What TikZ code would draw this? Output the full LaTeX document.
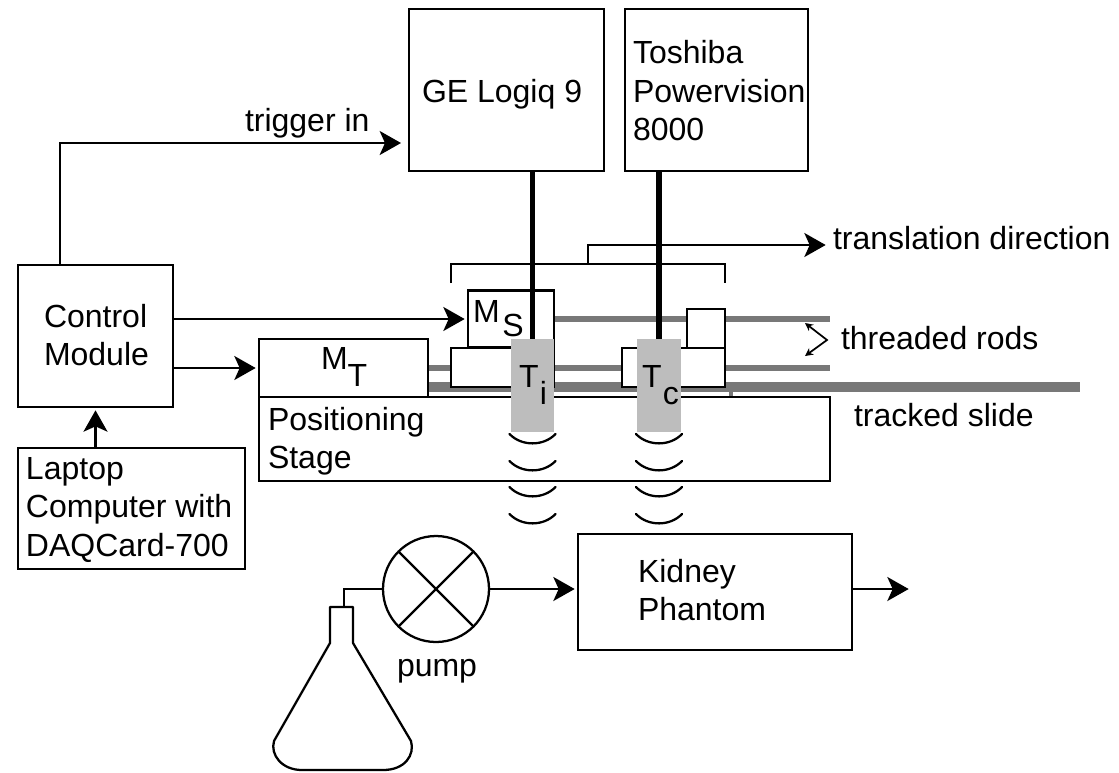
\documentclass[tikz,border=0pt]{standalone}
\usepackage{fontspec}
\setmainfont{Liberation Sans}
\usetikzlibrary{arrows.meta}
\newcommand{\pixlen}{0.75pt}
\definecolor{rodgray}{gray}{0.47}
\definecolor{probegray}{gray}{0.74}
\tikzset{boxnode/.style={rectangle, draw, fill=white, line width=1.7pt, outer sep=0pt, inner sep=0pt},
txt/.style={inner sep=0pt, outer sep=0pt, anchor=base west, align=left, font=\fontsize{24}{28.75}\selectfont},
probe/.style={rectangle, fill=probegray, inner sep=0pt, outer sep=0pt, minimum width=43.5*\pixlen, minimum height=93*\pixlen},
link/.style={line width=1.7pt, shorten >=2.5pt, -{Stealth[length=16pt, width=18pt, inset=4pt]}},
wire/.style={line width=1.7pt},
cable/.style={line width=4.2pt},
rod/.style={rodgray, line width=3.8pt}}

\begin{document}
\begin{tikzpicture}[x=0.75pt,y=-0.75pt]
\useasboundingbox (0,0) rectangle (1119,772);

% rods and slide
\coordinate (rodA) at (554,319); \coordinate (rodAend) at (830,319);
\coordinate (rodB) at (428,368); \coordinate (rodBend) at (830,368);
\coordinate (slide) at (428,387); \coordinate (slideend) at (1080,387);
\draw[rod] (rodA) -- (rodAend);
\draw[rod] (rodB) -- (rodBend);
\draw[rod, line width=7pt] (slide) -- (slideend);
\draw[rod, line width=2.5pt] (731,391) -- (731,398);

% instruments
\node[boxnode, minimum width=195*\pixlen, minimum height=162*\pixlen] (ge) at (506.5,90) {};
\node[boxnode, minimum width=183*\pixlen, minimum height=162*\pixlen] (toshiba) at (716.5,90) {};
\node[boxnode, minimum width=155*\pixlen, minimum height=142*\pixlen] (ctrl) at (95.5,336) {};
\node[boxnode, minimum width=227*\pixlen, minimum height=121*\pixlen] (laptop) at (131.5,508.5) {};
\node[boxnode, minimum width=571*\pixlen, minimum height=84*\pixlen] (stage) at (544.5,439) {};
\node[boxnode, minimum width=169*\pixlen, minimum height=58*\pixlen] (mt) at (343.5,368) {};
\node[boxnode, minimum width=86*\pixlen, minimum height=57*\pixlen] (ms) at (511,319) {};
\node[boxnode, minimum width=103*\pixlen, minimum height=39*\pixlen] (sledA) at (502.5,367.5) {};
\node[boxnode, minimum width=103*\pixlen, minimum height=39*\pixlen] (sledB) at (673.5,367.5) {};
\node[boxnode, minimum width=38*\pixlen, minimum height=39*\pixlen] (block) at (706,328.5) {};
\node[boxnode, minimum width=274*\pixlen, minimum height=116*\pixlen] (kidney) at (715,592) {};

% transducers
\node[probe] (Ti) at (532.5,385.5) {};
\node[probe] (Tc) at (659,385.5) {};
\coordinate (TiTop) at (532.5,339);
\coordinate (TcTop) at (659,339);
\draw[cable] (ge.south -| TiTop) -- (Ti.north);
\draw[cable] (toshiba.south -| TcTop) -- (Tc.north);

\foreach \xpos in {532.5,659}
  \foreach \ypos in {434,461,487,514}
    \draw[wire, line cap=round] (\xpos-23,\ypos) .. controls (\xpos-11,\ypos+12.5) and (\xpos+11,\ypos+12.5) .. (\xpos+23,\ypos);

% connectors
\coordinate (trigstart) at (60,265);
\coordinate (trigbend) at (60,143);
\coordinate (trigend) at (ge.west |- trigbend);
\draw[link] (ctrl.east |- ms.west) -- (ms.west);
\draw[link] (ctrl.east |- mt.west) -- (mt.west);
\draw[link] (laptop.north -| ctrl.south) -- (ctrl.south);
\draw[link, shorten >=6pt] (trigstart) -- (trigbend) -- (trigend);

% translation bracket
\coordinate (brL) at (451,283); \coordinate (brLtop) at (451,264);
\coordinate (brR) at (725,283); \coordinate (brRtop) at (725,264);
\coordinate (brM) at (588,264); \coordinate (brMtop) at (588,245);
\coordinate (brEnd) at (829,245);
\draw[wire] (brL) -- (brLtop) -- (brRtop) -- (brR);
\draw[link] (brM) -- (brMtop) -- (brEnd);

% threaded rods marker
\coordinate (thA) at (805,323); \coordinate (thM) at (827,340); \coordinate (thB) at (805,356);
\draw[line width=1.3pt, {Stealth[length=6pt, width=6pt]}-{Stealth[length=6pt, width=6pt]}] (thA) -- (thM) -- (thB);

% flow loop
\node[circle, draw, fill=white, line width=1.7pt, inner sep=0pt, outer sep=0pt, minimum width=106*\pixlen] (pump) at (436,589) {};
\draw[wire] (pump.45) -- (pump.225);
\draw[wire] (pump.135) -- (pump.315);
\coordinate (neck) at (344,607);
\coordinate (tube) at (344,589);
\draw[wire] (neck) -- (tube) -- (pump.west);
\draw[link] (pump.east) -- (kidney.west |- pump.east);
\coordinate (outlet) at (912,589);
\draw[link] (kidney.east |- outlet) -- (outlet);

% flask
\draw[wire, line join=round] (330,607) -- (353,607) -- (353,643) -- (411,741)
  .. controls (415,755) and (405,770) .. (383,770) -- (302,770)
  .. controls (282,770) and (270,755) .. (274,741) -- (330,643) -- cycle;

% labels
\node[txt] (geT) at (422,102) {GE Logiq 9};
\node[txt] (toshibaT) at (633,63) {Toshiba};
\node[txt] (powerT) at (633,102) {Powervision};
\node[txt] (numT) at (633,140) {8000};
\node[txt] (ctrlT) at (44,327) {Control};
\node[txt] (moduleT) at (44,365) {Module};
\node[txt] (laptopT) at (26,479) {Laptop};
\node[txt] (compT) at (26,517) {Computer with};
\node[txt] (daqT) at (26,556) {DAQCard-700};
\node[txt] (stageT) at (268,430) {Positioning};
\node[txt] (stageTb) at (268,468) {Stage};
\node[txt] (kidneyT) at (638,582) {Kidney};
\node[txt] (kidneyTb) at (638,620) {Phantom};
\node[txt] (trigT) at (245,131) {trigger in};
\node[txt] (transT) at (833,249) {translation direction};
\node[txt] (rodsT) at (841,349) {threaded rods};
\node[txt] (slideT) at (854,426) {tracked slide};
\node[txt] (pumpT) at (397,676) {pump};
\node[txt] (mtT) at (321,369) {M\raisebox{-12.75pt}{T}};
\node[txt] (msT) at (473,322) {M\hspace{2pt}\raisebox{-11pt}{S}};
\node[txt] (TiT) at (519,387) {T\hspace{1pt}\raisebox{-12.75pt}{i}};
\node[txt] (TcT) at (642,387) {T\hspace{1pt}\raisebox{-12.75pt}{c}};
\end{tikzpicture}
\end{document}
